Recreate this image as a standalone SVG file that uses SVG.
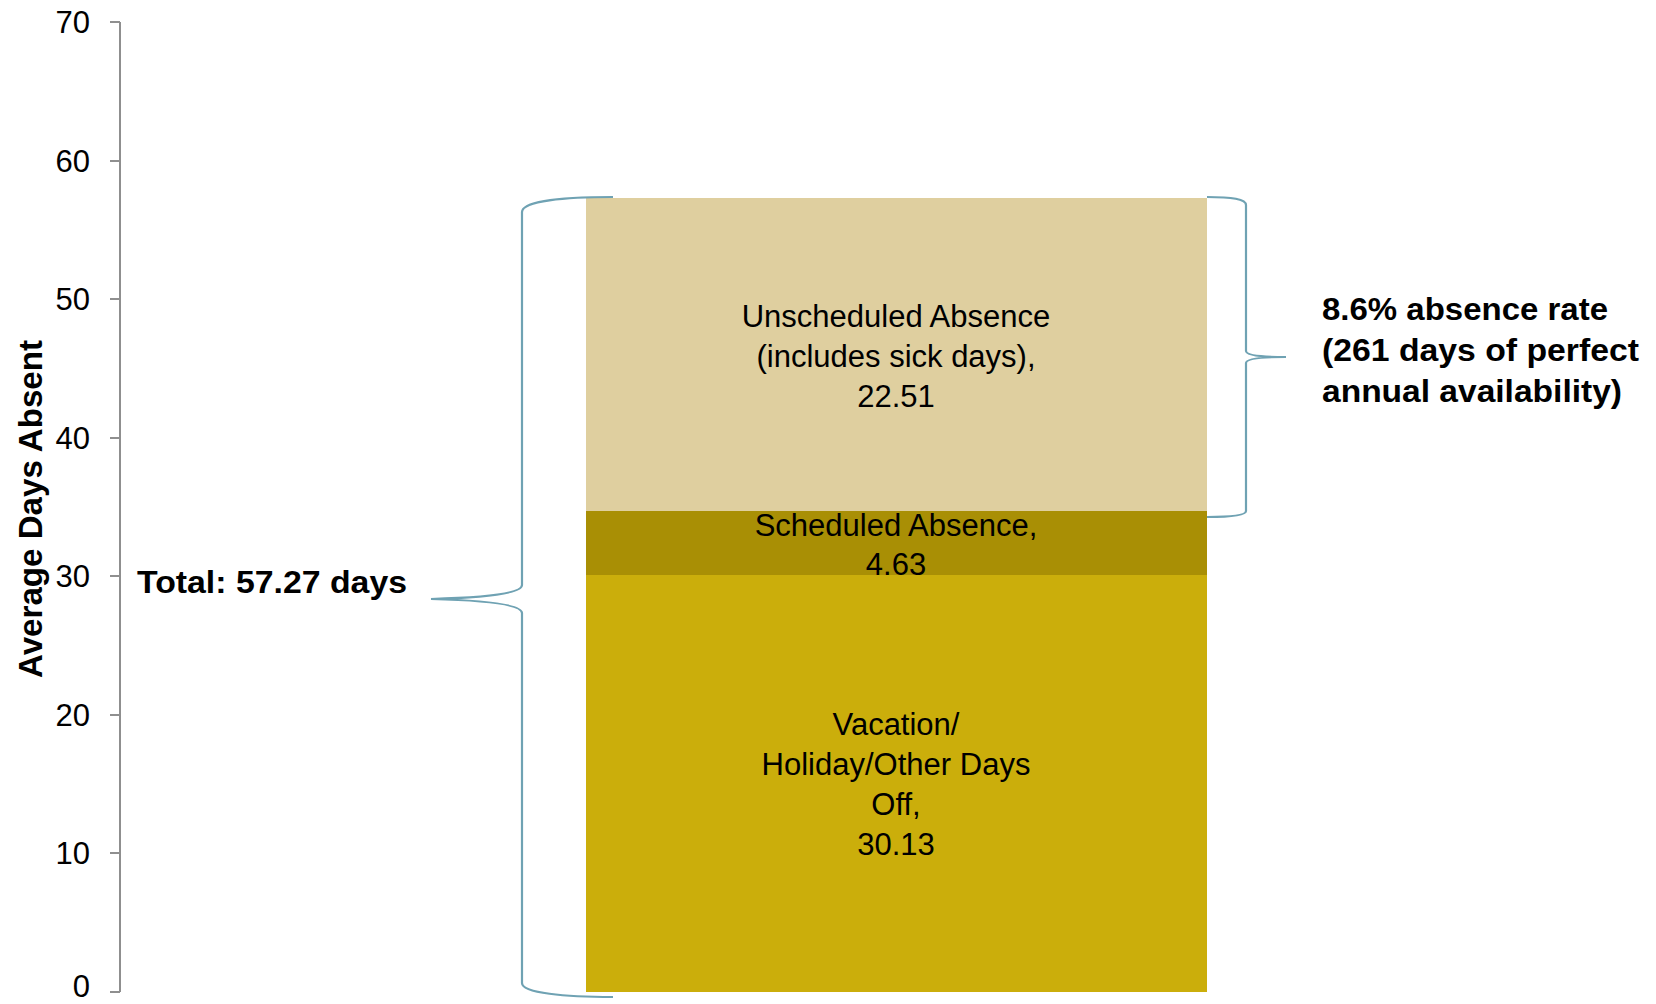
<svg xmlns="http://www.w3.org/2000/svg" width="1656" height="1004" viewBox="0 0 1656 1004">
<style>
.ax{stroke:#8f8f8f;stroke-width:2;fill:none}
.tk{font-family:"Liberation Sans",Arial,sans-serif;font-size:31px;fill:#000;text-anchor:end}
.lbl{font-family:"Liberation Sans",Arial,sans-serif;font-size:31px;fill:#000;text-anchor:middle}
.bold{font-family:"Liberation Sans",Arial,sans-serif;font-weight:bold;fill:#000}
.brace{stroke:#6fa2b3;stroke-width:2.2;fill:none}
</style>
<rect width="1656" height="1004" fill="#fff"/>
<g id="axis">
<path class="ax" d="M120,22 V992 M110,22 H120 M110,161 H120 M110,299 H120 M110,438 H120 M110,576 H120 M110,715 H120 M110,853 H120 M110,992 H120"/>
<text class="tk" x="90" y="33">70</text>
<text class="tk" x="90" y="172">60</text>
<text class="tk" x="90" y="310">50</text>
<text class="tk" x="90" y="449">40</text>
<text class="tk" x="90" y="587">30</text>
<text class="tk" x="90" y="726">20</text>
<text class="tk" x="90" y="864">10</text>
<text class="tk" x="90" y="997">0</text>
<text class="bold" font-size="33" text-anchor="middle" transform="translate(42,509) rotate(-90)" textLength="338" lengthAdjust="spacingAndGlyphs">Average Days Absent</text>
</g>
<g id="vacation">
<rect x="586" y="575" width="621" height="417" fill="#cbae0b"/>
<text class="lbl" x="896" y="735">Vacation/</text>
<text class="lbl" x="896" y="775">Holiday/Other Days</text>
<text class="lbl" x="896" y="815">Off,</text>
<text class="lbl" x="896" y="855">30.13</text>
</g>
<g id="scheduled">
<rect x="586" y="511" width="621" height="64" fill="#a98f05"/>
<text class="lbl" x="896" y="536">Scheduled Absence,</text>
<text class="lbl" x="896" y="575">4.63</text>
</g>
<g id="unscheduled">
<rect x="586" y="198" width="621" height="313" fill="#dfcf9f"/>
<text class="lbl" x="896" y="327">Unscheduled Absence</text>
<text class="lbl" x="896" y="367">(includes sick days),</text>
<text class="lbl" x="896" y="407">22.51</text>
</g>
<g id="total-label">
<text class="bold" font-size="32" x="137" y="593" textLength="270" lengthAdjust="spacingAndGlyphs">Total: 57.27 days</text>
</g>
<g id="rate-label">
<text class="bold" font-size="31" x="1322" y="320" textLength="286" lengthAdjust="spacingAndGlyphs">8.6% absence rate</text>
<text class="bold" font-size="31" x="1322" y="361" textLength="317" lengthAdjust="spacingAndGlyphs">(261 days of perfect</text>
<text class="bold" font-size="31" x="1322" y="402" textLength="300" lengthAdjust="spacingAndGlyphs">annual availability)</text>
</g>
<g id="connectors">
<path class="brace" d="M613,197 C565,197 522,201 522,212 L522,585 C522,595 470,598 431,599 C470,600 522,603 522,613 L522,983 C522,993 565,997 613,997"/>
<path class="brace" d="M1207,197 C1232,197 1246,199 1246,205 L1246,351 C1246,356 1266,357 1286,357 C1266,357 1246,358 1246,363 L1246,511 C1246,515 1232,517 1207,517"/>
</g>
</svg>
